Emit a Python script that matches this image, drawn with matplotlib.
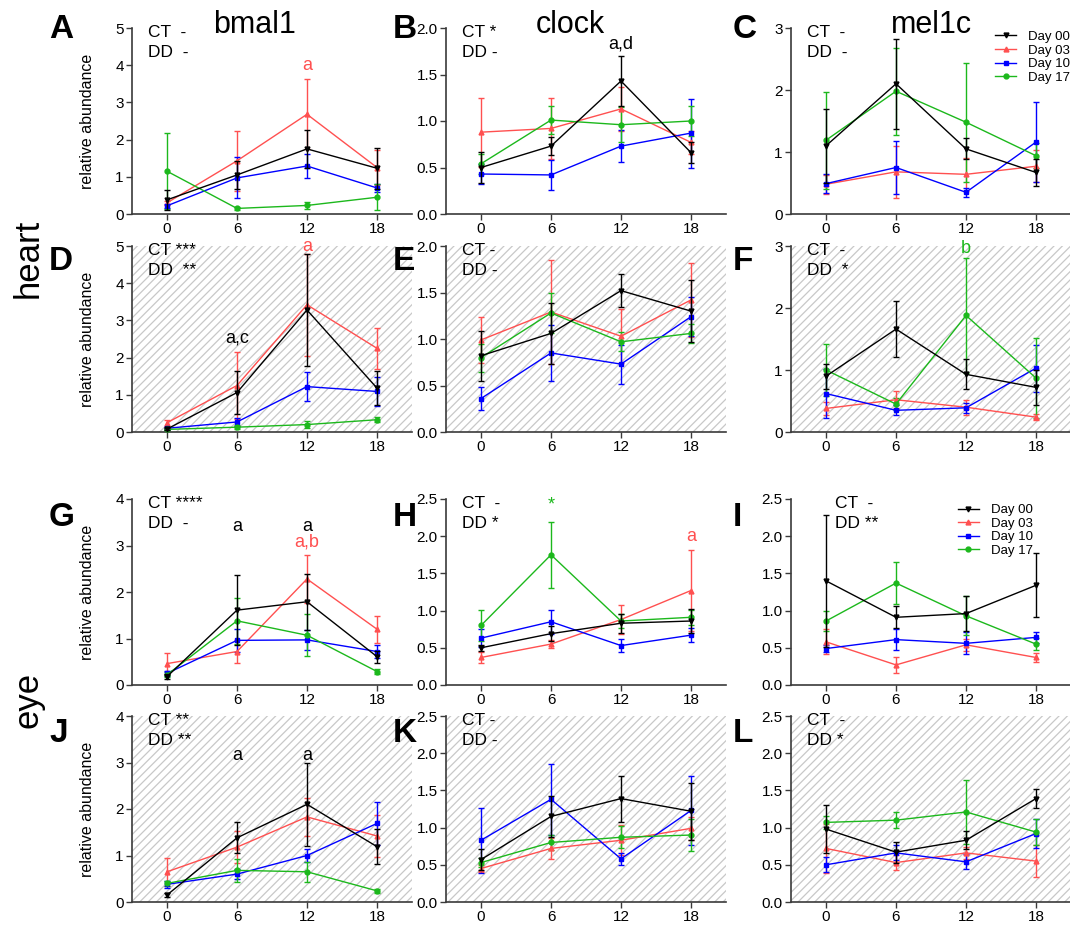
import matplotlib.pyplot as plt
from matplotlib.lines import Line2D

plt.rcParams['font.family'] = ['Liberation Sans', 'DejaVu Sans']
plt.rcParams['hatch.linewidth'] = 0.9

hours = [0, 6, 12, 18]
days = ['Day 00', 'Day 03', 'Day 10', 'Day 17']

# each panel: rows are Day 00, Day 03, Day 10, Day 17
# heart - light
A_mean = [[0.38, 1.05, 1.75, 1.23], [0.30, 1.43, 2.68, 1.25], [0.22, 0.97, 1.29, 0.70], [1.15, 0.15, 0.23, 0.45]]
A_err = [[0.27, 0.37, 0.52, 0.55], [0.05, 0.80, 0.94, 0.47], [0.05, 0.55, 0.33, 0.10], [1.02, 0.05, 0.10, 0.35]]
B_mean = [[0.50, 0.73, 1.43, 0.66], [0.88, 0.92, 1.13, 0.77], [0.43, 0.42, 0.73, 0.87], [0.54, 1.01, 0.96, 1.00]]
B_err = [[0.17, 0.10, 0.27, 0.11], [0.37, 0.33, 0.24, 0.12], [0.11, 0.16, 0.17, 0.37], [0.11, 0.15, 0.19, 0.16]]
C_mean = [[1.10, 2.10, 1.05, 0.67], [0.48, 0.68, 0.64, 0.77], [0.49, 0.75, 0.35, 1.16], [1.19, 1.98, 1.48, 0.94]]
C_err = [[0.60, 0.73, 0.17, 0.22], [0.15, 0.42, 0.27, 0.26], [0.15, 0.43, 0.07, 0.64], [0.78, 0.70, 0.96, 0.20]]
# heart - dark
D_mean = [[0.08, 1.06, 3.28, 1.18], [0.25, 1.25, 3.42, 2.25], [0.10, 0.27, 1.22, 1.09], [0.07, 0.13, 0.20, 0.33]]
D_err = [[0.03, 0.57, 1.50, 0.45], [0.08, 0.90, 1.37, 0.55], [0.03, 0.10, 0.38, 0.40], [0.02, 0.05, 0.10, 0.06]]
E_mean = [[0.82, 1.06, 1.52, 1.30], [0.99, 1.29, 1.03, 1.42], [0.36, 0.85, 0.73, 1.24], [0.80, 1.28, 0.97, 1.06]]
E_err = [[0.27, 0.33, 0.18, 0.33], [0.25, 0.56, 0.29, 0.40], [0.12, 0.30, 0.21, 0.21], [0.15, 0.22, 0.10, 0.10]]
F_mean = [[0.90, 1.66, 0.93, 0.72], [0.38, 0.52, 0.40, 0.24], [0.62, 0.35, 0.39, 1.03], [1.00, 0.45, 1.88, 0.87]]
F_err = [[0.20, 0.45, 0.24, 0.28], [0.10, 0.14, 0.12, 0.05], [0.40, 0.08, 0.08, 0.38], [0.42, 0.10, 0.93, 0.65]]
# eye - light
G_mean = [[0.18, 1.61, 1.79, 0.61], [0.46, 0.72, 2.28, 1.20], [0.25, 0.96, 0.97, 0.72], [0.22, 1.38, 1.07, 0.29]]
G_err = [[0.05, 0.75, 0.60, 0.13], [0.22, 0.25, 0.51, 0.29], [0.05, 0.25, 0.22, 0.15], [0.05, 0.50, 0.45, 0.05]]
H_mean = [[0.50, 0.69, 0.83, 0.86], [0.37, 0.55, 0.88, 1.27], [0.63, 0.85, 0.53, 0.67], [0.80, 1.75, 0.86, 0.91]]
H_err = [[0.04, 0.10, 0.13, 0.16], [0.07, 0.05, 0.19, 0.54], [0.12, 0.16, 0.09, 0.09], [0.21, 0.44, 0.10, 0.10]]
I_mean = [[1.40, 0.91, 0.96, 1.34], [0.58, 0.27, 0.54, 0.37], [0.49, 0.61, 0.56, 0.64], [0.86, 1.37, 0.93, 0.55]]
I_err = [[0.89, 0.15, 0.23, 0.43], [0.17, 0.11, 0.08, 0.06], [0.05, 0.14, 0.15, 0.07], [0.14, 0.28, 0.26, 0.08]]
# eye - dark
J_mean = [[0.15, 1.38, 2.10, 1.19], [0.65, 1.18, 1.83, 1.42], [0.38, 0.60, 1.00, 1.69], [0.40, 0.68, 0.65, 0.24]]
J_err = [[0.05, 0.33, 0.90, 0.38], [0.30, 0.35, 0.40, 0.45], [0.08, 0.10, 0.15, 0.47], [0.05, 0.25, 0.22, 0.04]]
K_mean = [[0.57, 1.15, 1.39, 1.22], [0.45, 0.72, 0.83, 0.99], [0.83, 1.38, 0.58, 1.23], [0.53, 0.80, 0.87, 0.90]]
K_err = [[0.14, 0.27, 0.31, 0.38], [0.05, 0.14, 0.20, 0.15], [0.44, 0.48, 0.08, 0.46], [0.06, 0.10, 0.15, 0.22]]
L_mean = [[0.98, 0.67, 0.83, 1.39], [0.72, 0.53, 0.66, 0.55], [0.50, 0.66, 0.54, 0.92], [1.07, 1.10, 1.21, 0.94]]
L_err = [[0.32, 0.14, 0.12, 0.13], [0.33, 0.10, 0.08, 0.21], [0.10, 0.10, 0.10, 0.20], [0.09, 0.11, 0.43, 0.18]]

# stats text per panel
ct_dd = {
    'A': ('CT  -', 'DD  -'), 'B': ('CT *', 'DD -'), 'C': ('CT  -', 'DD  -'),
    'D': ('CT ***', 'DD  **'), 'E': ('CT -', 'DD -'), 'F': ('CT  -', 'DD  *'),
    'G': ('CT ****', 'DD  -'), 'H': ('CT  -', 'DD *'), 'I': ('CT  -', 'DD **'),
    'J': ('CT **', 'DD **'), 'K': ('CT -', 'DD -'), 'L': ('CT  -', 'DD *'),
}
# significance letters (hour, height, text, series index)
notes = {
    'A': [(12, 4.0, 'a', 1)],
    'B': [(12, 1.83, 'a,d', 0)],
    'D': [(12, 5.0, 'a', 1), (6, 2.52, 'a,c', 0)],
    'F': [(12, 2.96, 'b', 3)],
    'G': [(6, 3.4, 'a', 0), (12, 3.4, 'a', 0), (12, 3.07, 'a,b', 1)],
    'H': [(6, 2.42, '*', 3), (18, 1.99, 'a', 1)],
    'J': [(6, 3.16, 'a', 0), (12, 3.16, 'a', 0)],
}

colors = ['#000000', '#ff5050', '#0000ff', '#1cb81c']
markers = ['v', '^', 's', 'o']

W, H = 1070, 926
fig = plt.figure(figsize=(W / 100, H / 100), dpi=100)

col_left = [132, 446, 791]
row_top = [28, 246, 499, 716]
ax_w, ax_h = 280, 186

panels = [
    ('A', A_mean, A_err, 0, 0), ('B', B_mean, B_err, 0, 1), ('C', C_mean, C_err, 0, 2),
    ('D', D_mean, D_err, 1, 0), ('E', E_mean, E_err, 1, 1), ('F', F_mean, F_err, 1, 2),
    ('G', G_mean, G_err, 2, 0), ('H', H_mean, H_err, 2, 1), ('I', I_mean, I_err, 2, 2),
    ('J', J_mean, J_err, 3, 0), ('K', K_mean, K_err, 3, 1), ('L', L_mean, L_err, 3, 2),
]

def y_setup(row, col):
    if col == 0:
        top = 5 if row < 2 else 4
        return top, list(range(0, top + 1)), '{:.0f}'
    if col == 1:
        top = 2.0 if row < 2 else 2.5
        return top, [i * 0.5 for i in range(int(top / 0.5) + 1)], '{:.1f}'
    if row < 2:
        return 3, [0, 1, 2, 3], '{:.0f}'
    return 2.5, [0, 0.5, 1.0, 1.5, 2.0, 2.5], '{:.1f}'

letter_x = [49, 393, 733]
letter_y = [30, 262, 517, 733]

for name, mean, err, row, col in panels:
    l = col_left[col] / W
    b = 1 - (row_top[row] + ax_h) / H
    ax = fig.add_axes([l, b, ax_w / W, ax_h / H])
    if row in (1, 3):
        # dark phase panels get the grey hatched background
        ax.patch.set_hatch('////')
        ax.patch.set_edgecolor('#c8c8c8')
        ax.patch.set_linewidth(0)
    for i in range(4):
        ax.errorbar(hours, mean[i], yerr=err[i], color=colors[i], marker=markers[i],
                    ms=3.5, lw=1, elinewidth=1, capsize=2, capthick=1, zorder=3 + (i == 0))
    top, ticks, fmt = y_setup(row, col)
    ax.set_ylim(0, top)
    ax.set_yticks(ticks)
    ax.set_yticklabels([fmt.format(t) for t in ticks])
    ax.set_xlim(-3, 21)
    ax.set_xticks(hours)
    for s in ['top', 'right']:
        ax.spines[s].set_visible(False)
    for s in ['left', 'bottom']:
        ax.spines[s].set_color('#3a3a3a')
        ax.spines[s].set_linewidth(1.2)
    ax.tick_params(direction='out', length=4, width=1, color='#3a3a3a', labelsize=11, pad=2)
    if col == 0:
        ax.set_ylabel('relative abundance', fontsize=11.5)
        ax.yaxis.set_label_coords(-0.132, 0.5)
    tx = 0.157 if name == 'I' else 0.057
    ct, dd = ct_dd[name]
    ax.text(tx, 0.975, ct, transform=ax.transAxes, fontsize=12.5, va='center', ha='left')
    ax.text(tx, 0.866, dd, transform=ax.transAxes, fontsize=12.5, va='center', ha='left')
    for hx, hy, txt, si in notes.get(name, []):
        ax.text(hx, hy, txt, color=colors[si], fontsize=13, ha='center', va='center')
    fig.text(letter_x[col] / W, 1 - letter_y[row] / H, name, fontsize=24, fontweight='bold',
             ha='left', va='center')
    if name in ('C', 'I'):
        handles = [Line2D([0], [0], color=colors[i], marker=markers[i], ms=3.5, lw=1) for i in range(4)]
        anchor = (0.729, 0.985) if name == 'C' else (0.596, 0.973)
        ax.legend(handles, days, loc='upper left', bbox_to_anchor=anchor, frameon=False,
                  fontsize=9.5, borderaxespad=0, borderpad=0, handlelength=1.6,
                  handletextpad=0.9, labelspacing=0.1)

# column and row headings
for cx, title in zip([255, 570, 932], ['bmal1', 'clock', 'mel1c']):
    fig.text(cx / W, 1 - 33 / H, title, fontsize=22, ha='center', va='baseline')
fig.text(28 / W, 1 - 258 / H, 'heart', fontsize=25, rotation=90, ha='center', va='center')
fig.text(28 / W, 1 - 700 / H, 'eye', fontsize=25, rotation=90, ha='center', va='center')

fig.savefig('out.png', dpi=100)
